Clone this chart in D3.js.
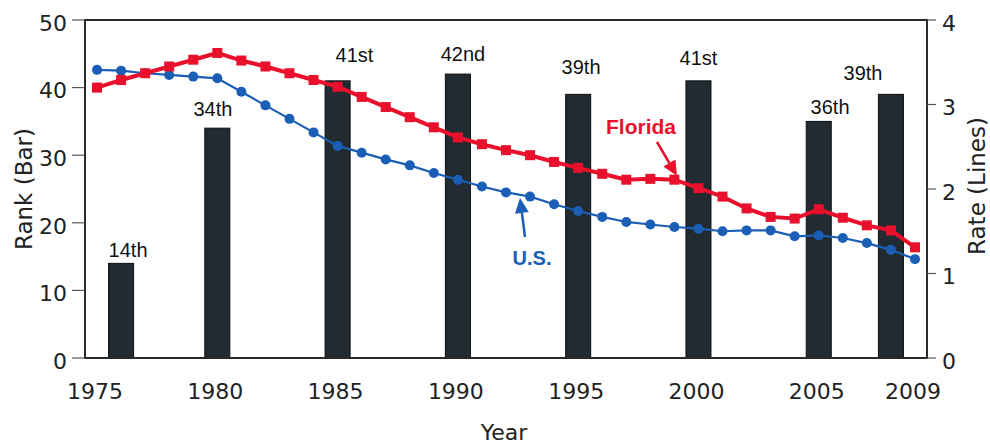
<!DOCTYPE html>
<html><head><meta charset="utf-8">
<script src="https://cdn.jsdelivr.net/npm/d3@7/dist/d3.min.js"></script>
<style>body{margin:0;background:#fff}svg{display:block}</style>
</head><body><svg id="c" width="990" height="447"></svg>
<script>
// ---- data ----
const years = [1975,1976,1977,1978,1979,1980,1981,1982,1983,1984,1985,1986,1987,1988,1989,1990,1991,1992,1993,1994,1995,1996,1997,1998,1999,2000,2001,2002,2003,2004,2005,2006,2007,2008,2009];
const floridaRate = [3.20,3.29,3.37,3.45,3.53,3.61,3.52,3.45,3.37,3.29,3.21,3.09,2.97,2.85,2.73,2.61,2.53,2.46,2.40,2.32,2.25,2.18,2.11,2.12,2.11,2.01,1.91,1.77,1.67,1.65,1.76,1.66,1.57,1.51,1.31];
const usRate = [3.41,3.40,3.37,3.35,3.33,3.31,3.15,2.99,2.83,2.67,2.51,2.43,2.35,2.28,2.19,2.11,2.03,1.96,1.91,1.82,1.74,1.67,1.61,1.58,1.55,1.53,1.50,1.51,1.51,1.44,1.45,1.42,1.36,1.28,1.17];
const barYears = [1976,1980,1985,1990,1995,2000,2005,2008];
const barRank = [14,34,41,42,39,41,35,39];
const barLabels = ["14th","34th","41st","42nd","39th","41st","36th","39th"];
// label anchor in data units (year, rank)
const labelYear = [1976.29,1979.82,1985.70,1990.21,1995.12,2000.0,2005.47,2006.84];
const labelRank = [14.99,35.84,43.74,43.98,42.01,43.34,36.05,41.12];
const rankTicks = [0,10,20,30,40,50];
const rateTicks = [0,1,2,3,4];
const yearTicks = [1975,1980,1985,1990,1995,2000,2005,2009];

// ---- layout ----
const L = 85, R = 927, T = 20, B = 358;
const svg = d3.select("#c");
const x = d3.scaleLinear().domain([1974.5, 2009.5]).range([L, R]);
const yRank = d3.scaleLinear().domain([0, 50]).range([B, T]);
const yRate = d3.scaleLinear().domain([0, 4]).range([B, T]);
const axisFont = "'DejaVu Sans', Verdana, sans-serif";
const labFont = "'Liberation Sans', Arial, sans-serif";
const RED = "#e8102a", BLUE = "#1a5eb5", BAR = "#222b32";

// bars
svg.append("g").selectAll("rect").data(barYears).join("rect")
  .attr("x", d => x(d - 0.52))
  .attr("width", d => x(d + 0.52) - x(d - 0.52))
  .attr("y", (d, i) => yRank(barRank[i]))
  .attr("height", (d, i) => B - yRank(barRank[i]))
  .attr("fill", BAR).attr("stroke", "#0b0f12").attr("stroke-width", 1);

// bar labels
svg.append("g").selectAll("text").data(barLabels).join("text")
  .attr("x", (d, i) => x(labelYear[i]))
  .attr("y", (d, i) => yRank(labelRank[i]))
  .attr("text-anchor", "middle")
  .attr("font-family", labFont).attr("font-size", 20).attr("fill", "#111")
  .text(d => d);

// frame
svg.append("rect").attr("x", L).attr("y", T).attr("width", R - L).attr("height", B - T)
  .attr("fill", "none").attr("stroke", "#2a2a2a").attr("stroke-width", 2);

// left axis
const gl = svg.append("g");
rankTicks.forEach(t => {
  gl.append("line").attr("x1", L - 13).attr("x2", L).attr("y1", yRank(t)).attr("y2", yRank(t))
    .attr("stroke", "#555").attr("stroke-width", 1.2);
  gl.append("text").attr("x", L - 18).attr("y", yRank(t) + 3).attr("dy", "0.35em")
    .attr("text-anchor", "end").attr("font-family", axisFont).attr("font-size", 22).attr("fill", "#222")
    .text(t);
});
// right axis
const gr = svg.append("g");
rateTicks.forEach(t => {
  gr.append("line").attr("x1", R).attr("x2", R + 9).attr("y1", yRate(t)).attr("y2", yRate(t))
    .attr("stroke", "#555").attr("stroke-width", 1.2);
  gr.append("text").attr("x", R + 15).attr("y", yRate(t) + 3).attr("dy", "0.35em")
    .attr("text-anchor", "start").attr("font-family", axisFont).attr("font-size", 22).attr("fill", "#222")
    .text(t);
});
// bottom labels
svg.append("g").selectAll("text").data(yearTicks).join("text")
  .attr("x", d => x(d) - 2).attr("y", 399)
  .attr("text-anchor", "middle").attr("font-family", axisFont).attr("font-size", 22).attr("fill", "#222")
  .text(d => d);

// axis titles
svg.append("text").attr("x", 504).attr("y", 440).attr("text-anchor", "middle")
  .attr("font-family", axisFont).attr("font-size", 22).attr("fill", "#222").text("Year");
svg.append("text").attr("transform", "translate(32,189) rotate(-90)").attr("text-anchor", "middle")
  .attr("font-family", axisFont).attr("font-size", 23).attr("fill", "#222").text("Rank (Bar)");
svg.append("text").attr("transform", "translate(985,186) rotate(-90)").attr("text-anchor", "middle")
  .attr("font-family", axisFont).attr("font-size", 23).attr("fill", "#222").text("Rate (Lines)");

// lines
const usData = years.map((y, i) => [y, usRate[i]]);
const flData = years.map((y, i) => [y, floridaRate[i]]);
const line = d3.line().x(d => x(d[0])).y(d => yRate(d[1]));

svg.append("path").datum(usData).attr("d", line).attr("fill", "none")
  .attr("stroke", BLUE).attr("stroke-width", 2.2);
svg.append("g").selectAll("circle").data(usData).join("circle")
  .attr("cx", d => x(d[0])).attr("cy", d => yRate(d[1])).attr("r", 5).attr("fill", BLUE);

svg.append("path").datum(flData).attr("d", line).attr("fill", "none")
  .attr("stroke", RED).attr("stroke-width", 4);
svg.append("g").selectAll("rect").data(flData).join("rect")
  .attr("x", d => x(d[0]) - 5).attr("y", d => yRate(d[1]) - 5)
  .attr("width", 10).attr("height", 10).attr("fill", RED);

// annotations
function arrow(x1, y1, x2, y2, color, w) {
  const a = Math.atan2(y2 - y1, x2 - x1), len = 15, hw = 7;
  const bx = x2 - len * Math.cos(a), by = y2 - len * Math.sin(a);
  svg.append("line").attr("x1", x1).attr("y1", y1).attr("x2", bx).attr("y2", by)
    .attr("stroke", color).attr("stroke-width", w);
  const px = -Math.sin(a) * hw, py = Math.cos(a) * hw;
  svg.append("path").attr("d", `M${x2},${y2}L${bx + px},${by + py}L${bx - px},${by - py}Z`).attr("fill", color);
}
svg.append("text").attr("x", 641).attr("y", 134).attr("text-anchor", "middle")
  .attr("font-family", labFont).attr("font-weight", "bold").attr("font-size", 21).attr("fill", RED).text("Florida");
arrow(657, 142, 677, 176, RED, 2.5);
svg.append("text").attr("x", 532).attr("y", 265).attr("text-anchor", "middle")
  .attr("font-family", labFont).attr("font-weight", "bold").attr("font-size", 20).attr("fill", BLUE).text("U.S.");
arrow(525, 237, 520, 198, BLUE, 2.5);
</script></body></html>
